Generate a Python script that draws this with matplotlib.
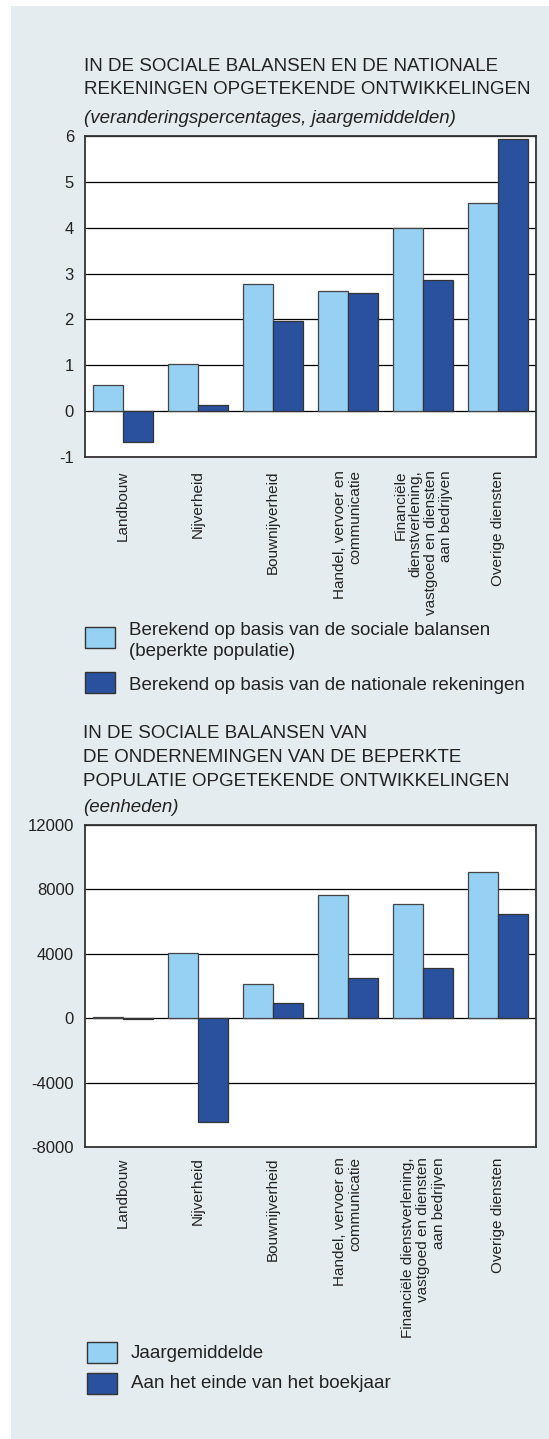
import matplotlib
matplotlib.use("Agg")
import matplotlib.pyplot as plt
import numpy as np

plt.rcParams['font.family'] = ['Liberation Sans', 'DejaVu Sans']

# chart 1 data (veranderingspercentages)
cats1 = ["Landbouw", "Nijverheid", "Bouwnijverheid", "Handel, vervoer en\ncommunicatie",
         "Financiële\ndienstverlening,\nvastgoed en diensten\naan bedrijven", "Overige diensten"]
sociale = [0.57, 1.02, 2.78, 2.62, 3.99, 4.53]
nationale = [-0.67, 0.13, 1.97, 2.57, 2.86, 5.93]

# chart 2 data (eenheden)
cats2 = ["Landbouw", "Nijverheid", "Bouwnijverheid", "Handel, vervoer en\ncommunicatie",
         "Financiële dienstverlening,\nvastgoed en diensten\naan bedrijven", "Overige diensten"]
jaargem = [50, 4060, 2120, 7670, 7110, 9080]
einde = [-50, -6460, 920, 2490, 3110, 6470]

LIGHT = "#96d0f2"
DARK = "#2a519e"
BG = "#e5ecef"
W, H = 549, 1439

fig = plt.figure(figsize=(W / 100, H / 100), dpi=100)
fig.patch.set_facecolor("white")
fig.add_artist(plt.Rectangle((11 / W, 0), 1, 1 - 6 / H, transform=fig.transFigure,
                             facecolor=BG, edgecolor="none", zorder=-10))


def fx(px):
    return px / W


def fy(py):
    return 1 - py / H


def bar_chart(top, bottom, cats, s1, s2, ylim, yticks, xpad):
    ax = fig.add_axes([fx(85), fy(bottom), fx(536) - fx(85), (bottom - top) / H])
    x = np.arange(len(cats))
    ax.bar(x - 0.2, s1, 0.4, color=LIGHT, edgecolor="#444444", linewidth=0.9, zorder=3)
    ax.bar(x + 0.2, s2, 0.4, color=DARK, edgecolor="#333333", linewidth=0.9, zorder=3)
    ax.set_xlim(-0.5, len(cats) - 0.5)
    ax.set_ylim(*ylim)
    ax.set_yticks(yticks)
    ax.set_yticklabels([str(t) for t in yticks])
    ax.yaxis.grid(True, color="black", linewidth=0.9, zorder=0)
    ax.set_axisbelow(True)
    ax.set_xticks(x)
    ax.set_xticklabels(cats, rotation=90, fontsize=11, color="#222222",
                       va="top", ha="center", multialignment="right", linespacing=1.12)
    ax.tick_params(axis="x", length=0, pad=xpad)
    ax.tick_params(axis="y", length=0, pad=8, labelsize=12, labelcolor="#222222")
    for sp in ax.spines.values():
        sp.set_color("#333333")
        sp.set_linewidth(1.3)
    return ax


bar_chart(136, 457, cats1, sociale, nationale, (-1, 6), [-1, 0, 1, 2, 3, 4, 5, 6], 9.5)
bar_chart(825, 1147, cats2, jaargem, einde, (-8000, 12000), [-8000, -4000, 0, 4000, 8000, 12000], 7.5)

# titles
tkw = dict(fontsize=13.5, color="#222222", va="top", ha="left")
fig.text(fx(84), fy(58), "IN DE SOCIALE BALANSEN EN DE NATIONALE", **tkw)
fig.text(fx(84), fy(81), "REKENINGEN OPGETEKENDE ONTWIKKELINGEN", **tkw)
fig.text(fx(84), fy(110), "(veranderingspercentages, jaargemiddelden)", style="italic", **tkw)

fig.text(fx(83), fy(725), "IN DE SOCIALE BALANSEN VAN", **tkw)
fig.text(fx(83), fy(749), "DE ONDERNEMINGEN VAN DE BEPERKTE", **tkw)
fig.text(fx(83), fy(773), "POPULATIE OPGETEKENDE ONTWIKKELINGEN", **tkw)
fig.text(fx(83), fy(799), "(eenheden)", style="italic", **tkw)


# legends
def legend_item(x, y, color, label, ty):
    fig.add_artist(plt.Rectangle((fx(x), fy(y + 21)), 30 / W, 21 / H, transform=fig.transFigure,
                                 facecolor=color, edgecolor="#333333", linewidth=1.0))
    fig.text(fx(x + 44), fy(ty), label, fontsize=13.5, color="#222222", va="center", ha="left",
             linespacing=1.3)


legend_item(85, 627, LIGHT, "Berekend op basis van de sociale balansen\n(beperkte populatie)", 641)
legend_item(85, 672, DARK, "Berekend op basis van de nationale rekeningen", 685)
legend_item(87, 1342, LIGHT, "Jaargemiddelde", 1353)
legend_item(87, 1373, DARK, "Aan het einde van het boekjaar", 1384)

fig.savefig("out.png", dpi=100, facecolor=fig.get_facecolor())
